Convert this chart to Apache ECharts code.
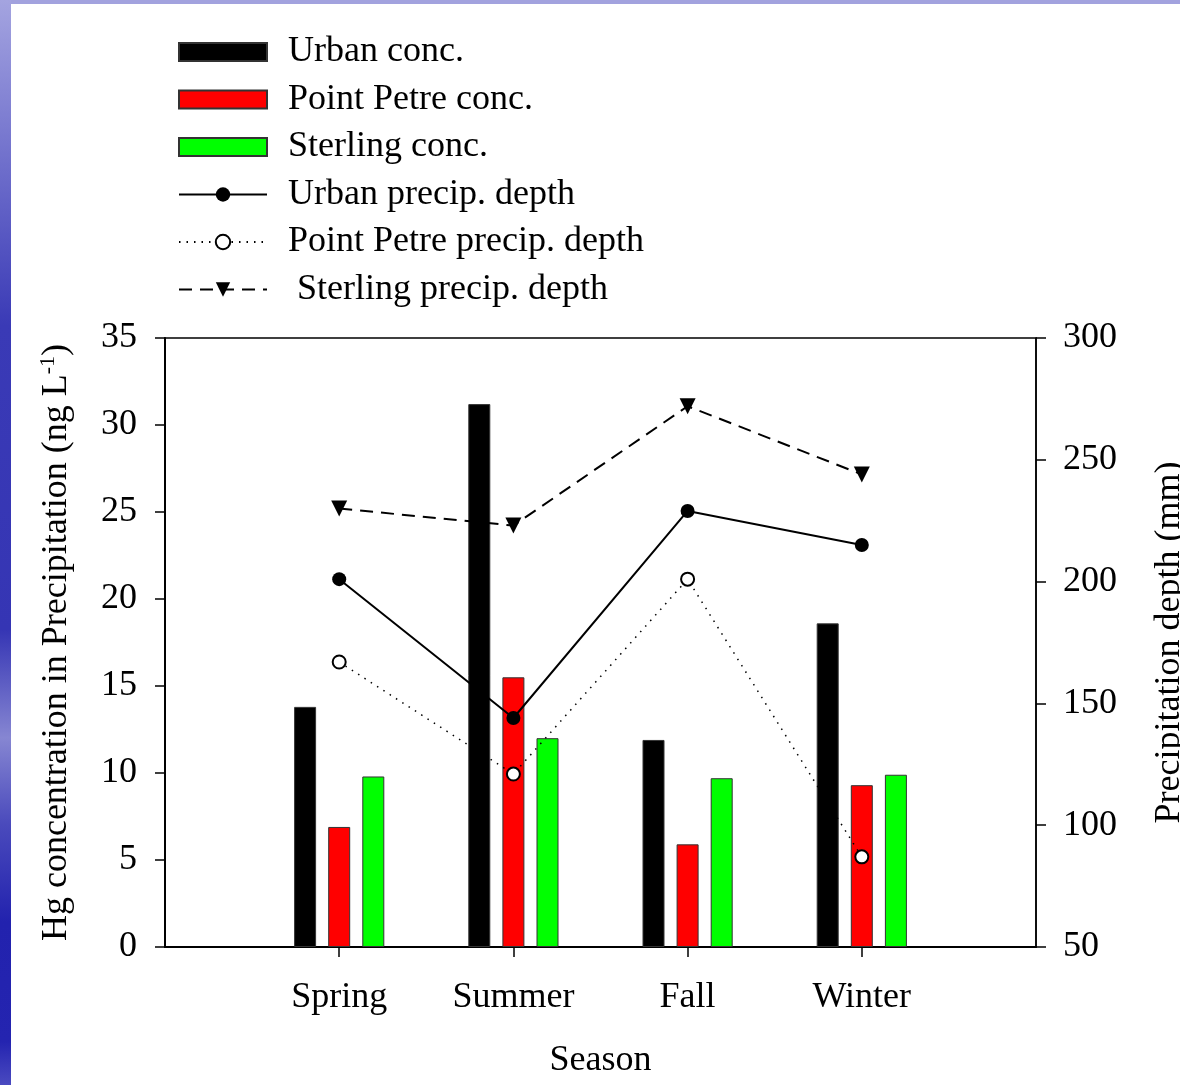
<!DOCTYPE html>
<html>
<head>
<meta charset="utf-8">
<script src="https://cdn.jsdelivr.net/npm/echarts@6/dist/echarts.min.js"></script>
<style>
  html, body { margin: 0; padding: 0; background: #fff; }
  #chart { width: 1180px; height: 1085px; }
</style>
</head>
<body>
<div id="chart"></div>
<script>
// data
const seasons = ['Spring', 'Summer', 'Fall', 'Winter']
const urbanConc = [13.8, 31.2, 11.9, 18.6]
const pointPetreConc = [6.9, 15.5, 5.9, 9.3]
const sterlingConc = [9.8, 12.0, 9.7, 9.9]
const urbanDepth = [201, 144, 229, 215]
const pointPetreDepth = [167, 121, 201, 87]
const sterlingDepth = [230, 223, 272, 244]

const FONT = 'Liberation Serif, Times New Roman, serif'
const FS = 36

// empty slot on each side so the seasons sit at 1..4 of 0..5
const cats = ['', ...seasons, '']
const pad = arr => [null, ...arr, null]

const chart = echarts.init(document.getElementById('chart'))

const barCommon = {
  type: 'bar',
  yAxisIndex: 0,
  barWidth: 22,
  barGap: '55%'
}

const option = {
  backgroundColor: '#fff',
  animation: false,
  textStyle: { fontFamily: FONT, color: '#000' },
  graphic: [
    {
      type: 'rect', left: 0, top: 0, z: -10,
      shape: { width: 1180, height: 4 },
      style: { fill: '#a2a2de' }
    },
    {
      type: 'rect', left: 0, top: 0, z: -10,
      shape: { width: 11, height: 1085 },
      style: {
        fill: new echarts.graphic.LinearGradient(0, 0, 0, 1, [
          { offset: 0, color: '#a4a4e0' },
          { offset: 0.12, color: '#7a7ad0' },
          { offset: 0.3, color: '#3a3ab6' },
          { offset: 0.58, color: '#3535b4' },
          { offset: 0.68, color: '#8686d2' },
          { offset: 0.76, color: '#4a4abc' },
          { offset: 0.85, color: '#2222ae' },
          { offset: 0.96, color: '#2424b0' },
          { offset: 1, color: '#4a4ac0' }
        ])
      }
    }
  ],
  legend: {
    orient: 'vertical',
    left: 178,
    top: 34,
    padding: 0,
    itemWidth: 88,
    itemHeight: 18,
    itemGap: 11.5,
    textStyle: {
      fontFamily: FONT,
      fontSize: FS,
      lineHeight: 36,
      color: '#000',
      padding: [0, 0, 0, 16]
    },
    data: [
      { name: 'Urban conc.', icon: 'rect' },
      { name: 'Point Petre conc.', icon: 'rect' },
      { name: 'Sterling conc.', icon: 'rect' },
      'Urban precip. depth',
      'Point Petre precip. depth',
      ' Sterling precip. depth'
    ]
  },
  grid: {
    left: 165,
    right: 144,
    top: 338,
    bottom: 138,
    outerBoundsMode: 'none',
    containLabel: false,
    show: true,
    borderColor: '#000',
    borderWidth: 1.5,
    backgroundColor: 'transparent'
  },
  xAxis: {
    type: 'category',
    data: cats,
    boundaryGap: false,
    axisLine: { lineStyle: { color: '#000', width: 2 } },
    axisTick: {
      length: 10,
      lineStyle: { color: '#000', width: 1.5 },
      interval: (idx, val) => val !== ''
    },
    axisLabel: {
      interval: 0,
      margin: 33,
      fontFamily: FONT,
      fontSize: FS,
      color: '#000'
    },
    splitLine: { show: false },
    name: 'Season',
    nameLocation: 'middle',
    nameGap: 96,
    nameTextStyle: { fontFamily: FONT, fontSize: FS, color: '#000' }
  },
  yAxis: [
    {
      type: 'value',
      min: 0,
      max: 35,
      interval: 5,
      position: 'left',
      axisLine: { show: true, lineStyle: { color: '#000', width: 2 } },
      axisTick: { show: true, length: 10, lineStyle: { color: '#000', width: 1.5 } },
      axisLabel: { margin: 28, fontFamily: FONT, fontSize: FS, color: '#000' },
      splitLine: { show: false },
      name: '{a|Hg concentration in Precipitation (ng L}{s|-1}{a|)}',
      nameLocation: 'middle',
      nameRotate: 90,
      nameGap: 88,
      nameTextStyle: {
        rich: {
          a: { fontFamily: FONT, fontSize: FS, lineHeight: 40, color: '#000' },
          s: { fontFamily: FONT, fontSize: 22, lineHeight: 22, verticalAlign: 'top', color: '#000' }
        }
      }
    },
    {
      type: 'value',
      min: 50,
      max: 300,
      interval: 50,
      position: 'right',
      axisLine: { show: true, lineStyle: { color: '#000', width: 1.5 } },
      axisTick: { show: true, length: 10, lineStyle: { color: '#000', width: 1.5 } },
      axisLabel: { margin: 27, fontFamily: FONT, fontSize: FS, color: '#000' },
      splitLine: { show: false },
      name: 'Precipitation depth (mm)',
      nameLocation: 'middle',
      nameRotate: 90,
      nameGap: 116,
      nameTextStyle: { fontFamily: FONT, fontSize: FS, color: '#000' }
    }
  ],
  series: [
    Object.assign({}, barCommon, {
      name: 'Urban conc.',
      data: pad(urbanConc),
      itemStyle: { color: '#000', borderColor: '#333', borderWidth: 1 }
    }),
    Object.assign({}, barCommon, {
      name: 'Point Petre conc.',
      data: pad(pointPetreConc),
      itemStyle: { color: '#ff0000', borderColor: '#333', borderWidth: 1 }
    }),
    Object.assign({}, barCommon, {
      name: 'Sterling conc.',
      data: pad(sterlingConc),
      itemStyle: { color: '#00ff00', borderColor: '#333', borderWidth: 1 }
    }),
    {
      name: 'Urban precip. depth',
      type: 'line',
      yAxisIndex: 1,
      data: pad(urbanDepth),
      symbol: 'circle',
      symbolSize: 14,
      lineStyle: { color: '#000', width: 2 },
      itemStyle: { color: '#000' },
      z: 5
    },
    {
      name: 'Point Petre precip. depth',
      type: 'line',
      yAxisIndex: 1,
      data: pad(pointPetreDepth),
      symbol: 'circle',
      symbolSize: 13,
      lineStyle: { color: '#000', width: 1.5, type: [1.5, 6] },
      itemStyle: { color: '#fff', borderColor: '#000', borderWidth: 2 },
      z: 5
    },
    {
      name: ' Sterling precip. depth',
      type: 'line',
      yAxisIndex: 1,
      data: pad(sterlingDepth),
      symbol: 'triangle',
      symbolRotate: 180,
      symbolSize: 16,
      lineStyle: { color: '#000', width: 2, type: [13, 8] },
      itemStyle: { color: '#000' },
      z: 5
    }
  ]
}

chart.setOption(option)
</script>
</body>
</html>
